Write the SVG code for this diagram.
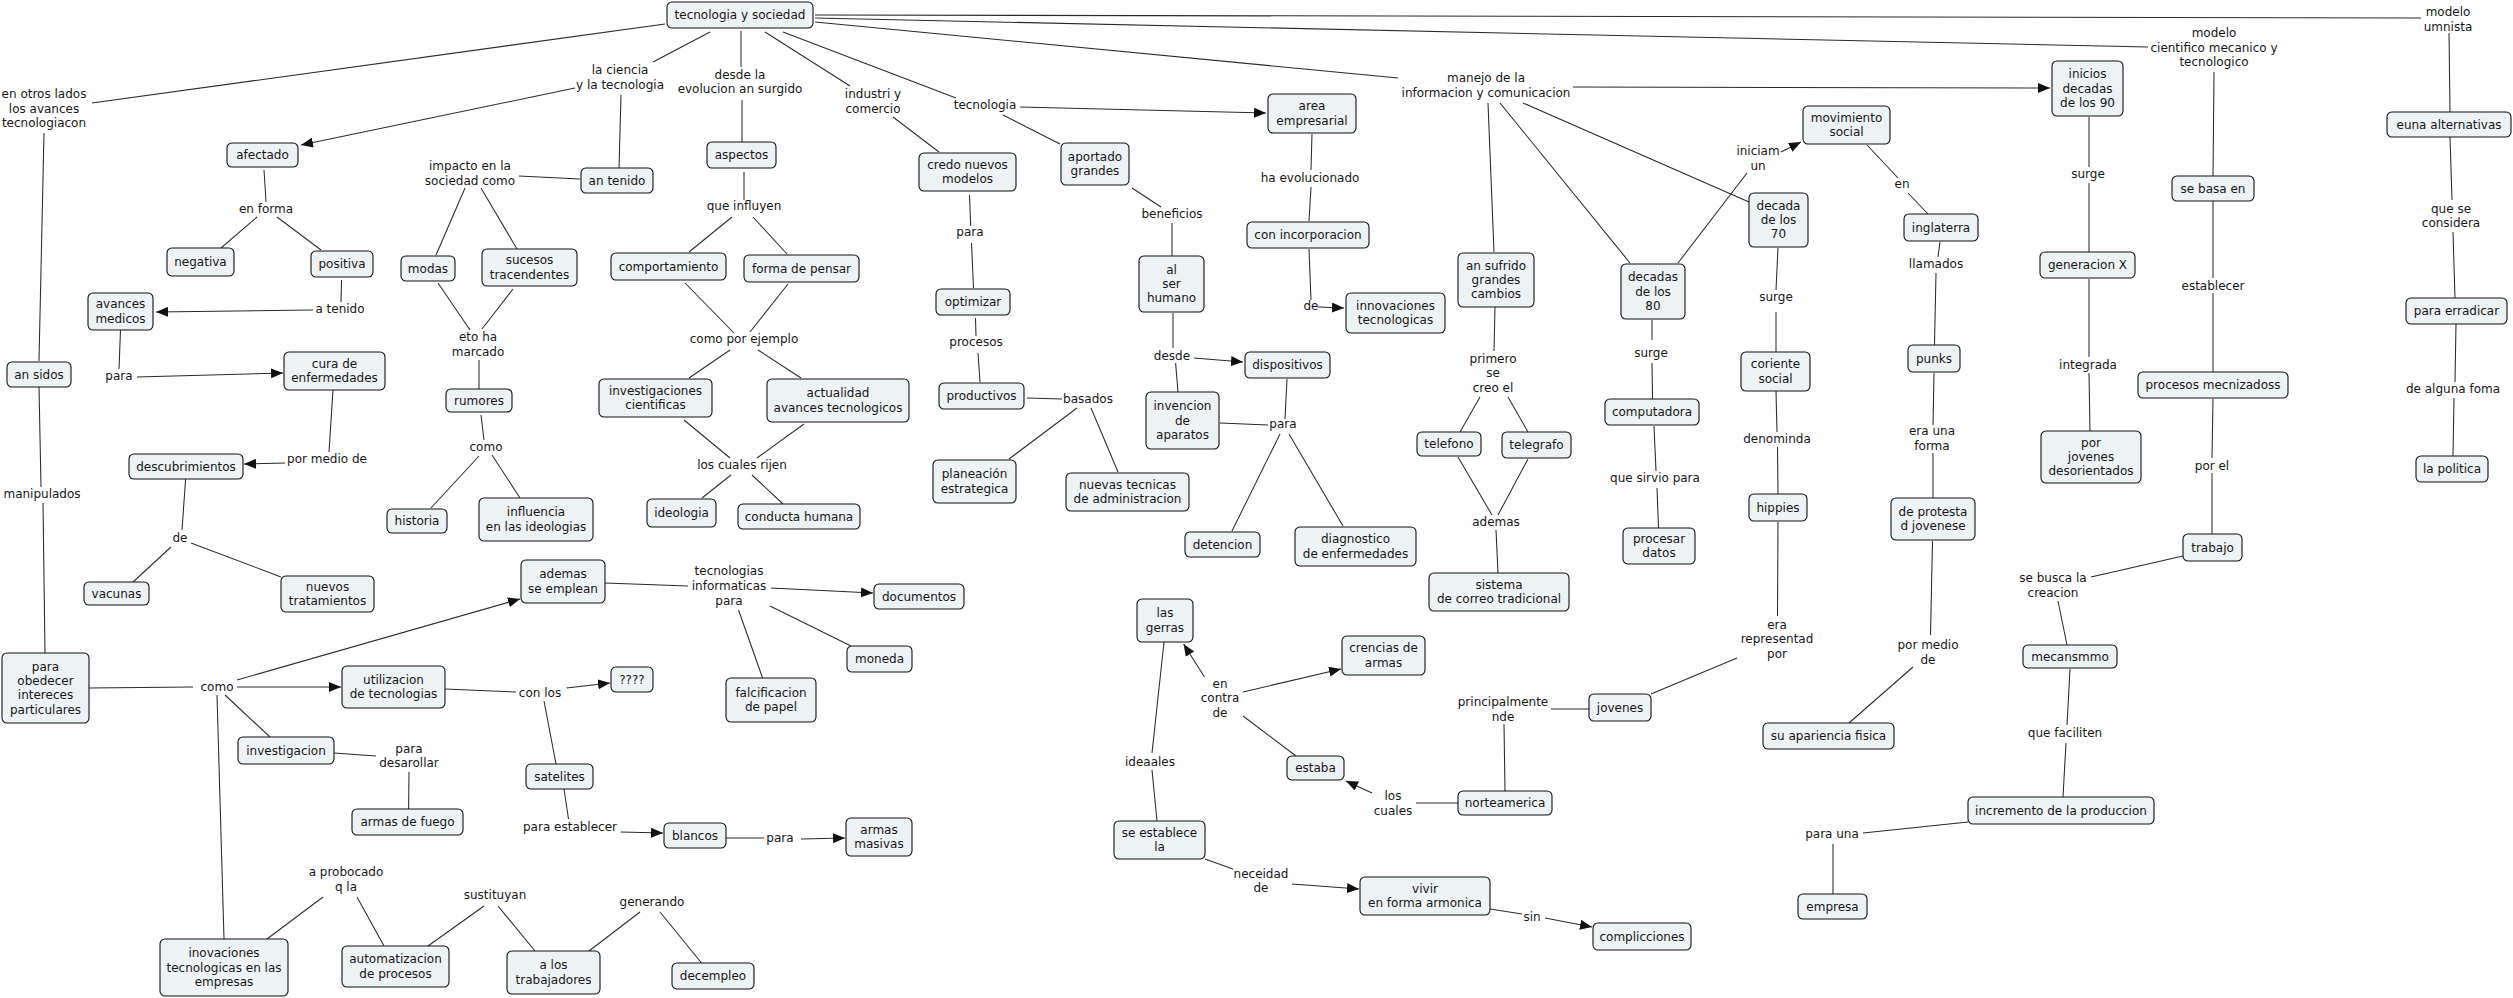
<svg xmlns="http://www.w3.org/2000/svg" width="2513" height="998" viewBox="0 0 2513 998">
<style>
text{font-family:"DejaVu Sans",Verdana,sans-serif;font-size:12px;fill:#161616;text-anchor:middle}
.node rect{fill:#edf2f5;stroke:#111;stroke-width:1.1}
#connectors line{stroke:#2a2a2a;stroke-width:1.05;fill:none}
#connectors line.a{marker-end:url(#ah)}
</style>
<defs>
<marker id="ah" viewBox="0 0 12 10" refX="12" refY="5" markerWidth="12" markerHeight="10" markerUnits="userSpaceOnUse" orient="auto"><path d="M0,0 L12,5 L0,10 z" fill="#111"/></marker>
</defs>
<rect width="2513" height="998" fill="#fff"/>
<g id="connectors">
<line x1="665" y1="24" x2="92" y2="103"/>
<line x1="44" y1="133" x2="39" y2="361"/>
<line x1="710" y1="32" x2="653" y2="62"/>
<line class="a" x1="575" y1="88" x2="301" y2="145"/>
<line x1="621" y1="95" x2="619" y2="168"/>
<line x1="264" y1="170" x2="266" y2="202"/>
<line x1="257" y1="217" x2="221" y2="248"/>
<line x1="277" y1="217" x2="321" y2="250"/>
<line x1="341.5" y1="280" x2="341" y2="302"/>
<line class="a" x1="313" y1="310" x2="156" y2="312"/>
<line x1="580" y1="179" x2="519" y2="176"/>
<line x1="465" y1="188" x2="436" y2="255"/>
<line x1="481" y1="188" x2="517" y2="249"/>
<line x1="438" y1="283" x2="470" y2="330"/>
<line x1="513" y1="289" x2="482" y2="329"/>
<line x1="479" y1="360" x2="479" y2="389"/>
<line x1="481" y1="415" x2="484" y2="440"/>
<line x1="479" y1="456" x2="431" y2="508"/>
<line x1="492" y1="455" x2="520" y2="498"/>
<line x1="741" y1="31" x2="741" y2="67"/>
<line x1="742" y1="100" x2="742" y2="142"/>
<line x1="744" y1="172" x2="744" y2="200"/>
<line x1="732" y1="217" x2="689" y2="252"/>
<line x1="753" y1="217" x2="787" y2="254"/>
<line x1="685" y1="283" x2="734" y2="333"/>
<line x1="788" y1="284" x2="750" y2="332"/>
<line x1="730" y1="350" x2="689" y2="378"/>
<line x1="758" y1="350" x2="801" y2="378"/>
<line x1="684" y1="420" x2="730" y2="458"/>
<line x1="804" y1="424" x2="757" y2="458"/>
<line x1="731" y1="475" x2="702" y2="498"/>
<line x1="752" y1="475" x2="783" y2="504"/>
<line x1="765" y1="32" x2="850" y2="86"/>
<line x1="893" y1="117" x2="939" y2="152"/>
<line x1="969.5" y1="195" x2="970.7" y2="226"/>
<line x1="971.5" y1="243" x2="973.5" y2="288"/>
<line x1="975.5" y1="318" x2="976" y2="336"/>
<line x1="978" y1="353" x2="980" y2="382"/>
<line x1="1027" y1="398" x2="1062" y2="399"/>
<line x1="1077" y1="408" x2="1009" y2="459"/>
<line x1="1091" y1="408" x2="1118" y2="472"/>
<line x1="783" y1="32" x2="956" y2="98"/>
<line class="a" x1="1020" y1="107" x2="1266" y2="113"/>
<line x1="1003" y1="115" x2="1060" y2="144"/>
<line x1="1132" y1="188" x2="1161" y2="207"/>
<line x1="1172" y1="223" x2="1172" y2="256"/>
<line x1="1173" y1="313" x2="1173" y2="348"/>
<line class="a" x1="1194" y1="358" x2="1243" y2="362"/>
<line x1="1175.6" y1="363" x2="1178" y2="392"/>
<line x1="1220" y1="423" x2="1268" y2="425"/>
<line x1="1287" y1="379" x2="1285" y2="419"/>
<line x1="1280" y1="434" x2="1232" y2="531"/>
<line x1="1289" y1="434" x2="1343" y2="526"/>
<line x1="1312" y1="134" x2="1311" y2="170"/>
<line x1="1311" y1="187" x2="1309" y2="221"/>
<line x1="1309" y1="249" x2="1311" y2="300"/>
<line class="a" x1="1318" y1="307" x2="1344" y2="308"/>
<line x1="815" y1="22" x2="1398" y2="78"/>
<line x1="815" y1="18" x2="2148" y2="47"/>
<line x1="815" y1="15" x2="2421" y2="18"/>
<line class="a" x1="1573" y1="87" x2="2050" y2="88"/>
<line x1="1488" y1="103" x2="1494" y2="252"/>
<line x1="1500" y1="103" x2="1630" y2="263"/>
<line x1="1523" y1="103" x2="1749" y2="202"/>
<line x1="1678" y1="263" x2="1747" y2="173"/>
<line class="a" x1="1781" y1="152" x2="1801" y2="142"/>
<line x1="1867" y1="145" x2="1898" y2="178"/>
<line x1="1908" y1="193" x2="1928" y2="214"/>
<line x1="1940" y1="242" x2="1938" y2="257"/>
<line x1="1936" y1="273" x2="1934.5" y2="345"/>
<line x1="1934" y1="373" x2="1933" y2="425"/>
<line x1="1933" y1="453" x2="1933" y2="498"/>
<line x1="1932.5" y1="541" x2="1930.5" y2="635"/>
<line x1="1913" y1="667" x2="1849" y2="723"/>
<line x1="1778" y1="248" x2="1776" y2="290"/>
<line x1="1776" y1="312" x2="1776" y2="352"/>
<line x1="1776" y1="391" x2="1777" y2="432"/>
<line x1="1777.5" y1="447" x2="1778" y2="494"/>
<line x1="1778" y1="522" x2="1777.5" y2="616"/>
<line x1="1737" y1="658" x2="1651" y2="694"/>
<line x1="1495" y1="307" x2="1494" y2="351"/>
<line x1="1480" y1="397" x2="1460" y2="432"/>
<line x1="1508" y1="397" x2="1528" y2="432"/>
<line x1="1458" y1="457" x2="1492" y2="515"/>
<line x1="1528" y1="459" x2="1498" y2="515"/>
<line x1="1496" y1="530" x2="1498" y2="573"/>
<line x1="1652" y1="320" x2="1652" y2="340"/>
<line x1="1652" y1="363" x2="1652.5" y2="399"/>
<line x1="1654" y1="426" x2="1656" y2="471"/>
<line x1="1657" y1="488" x2="1658.5" y2="528"/>
<line x1="2089" y1="117" x2="2089" y2="167"/>
<line x1="2089" y1="183" x2="2089" y2="252"/>
<line x1="2089" y1="279" x2="2089" y2="357"/>
<line x1="2089" y1="373" x2="2090" y2="431"/>
<line x1="2214" y1="72" x2="2213" y2="176"/>
<line x1="2213" y1="201" x2="2213" y2="278"/>
<line x1="2213" y1="293" x2="2213" y2="372"/>
<line x1="2213" y1="399" x2="2212" y2="458"/>
<line x1="2212" y1="473" x2="2212" y2="534"/>
<line x1="2183" y1="556" x2="2091" y2="577"/>
<line x1="2058" y1="601" x2="2067" y2="645"/>
<line x1="2070" y1="669" x2="2067" y2="725"/>
<line x1="2066" y1="743" x2="2063" y2="797"/>
<line x1="1968" y1="822" x2="1863" y2="833"/>
<line x1="1833" y1="844" x2="1833" y2="894"/>
<line x1="2449" y1="33" x2="2450" y2="112"/>
<line x1="2450" y1="137" x2="2452" y2="200"/>
<line x1="2453" y1="232" x2="2455" y2="298"/>
<line x1="2456" y1="324" x2="2455" y2="382"/>
<line x1="2454" y1="398" x2="2453" y2="456"/>
<line x1="39" y1="387" x2="41" y2="487"/>
<line x1="43" y1="503" x2="45" y2="653"/>
<line x1="120.5" y1="330" x2="119" y2="369"/>
<line class="a" x1="137" y1="377" x2="283" y2="373"/>
<line x1="333" y1="390" x2="329" y2="452"/>
<line class="a" x1="285" y1="463" x2="244" y2="464"/>
<line x1="185.6" y1="479" x2="182" y2="530"/>
<line x1="171" y1="547" x2="133" y2="582"/>
<line x1="191" y1="543" x2="281" y2="577"/>
<line x1="89" y1="688" x2="193" y2="687"/>
<line class="a" x1="237" y1="687" x2="341" y2="687"/>
<line class="a" x1="237" y1="680" x2="520" y2="599"/>
<line x1="225" y1="695" x2="270" y2="737"/>
<line x1="217" y1="695" x2="224" y2="939"/>
<line x1="605" y1="583" x2="688" y2="586"/>
<line class="a" x1="771" y1="588" x2="873" y2="593"/>
<line x1="770" y1="606" x2="851" y2="646"/>
<line x1="738.5" y1="610" x2="762.6" y2="678"/>
<line x1="445" y1="689" x2="516" y2="692"/>
<line class="a" x1="566.5" y1="688" x2="610" y2="683"/>
<line x1="544" y1="701" x2="556" y2="764"/>
<line x1="564" y1="789" x2="568.5" y2="819"/>
<line class="a" x1="620.7" y1="832" x2="663" y2="833"/>
<line x1="726" y1="838" x2="764" y2="838"/>
<line class="a" x1="801" y1="839" x2="845" y2="838"/>
<line x1="334" y1="753" x2="376" y2="756"/>
<line x1="409" y1="772" x2="408.6" y2="809"/>
<line x1="267" y1="939" x2="323" y2="897"/>
<line x1="357" y1="897" x2="384" y2="946"/>
<line x1="428" y1="946" x2="484" y2="906"/>
<line x1="498" y1="906" x2="535" y2="951"/>
<line x1="589" y1="951" x2="640" y2="912"/>
<line x1="660" y1="912" x2="701.5" y2="963"/>
<line x1="1164" y1="642" x2="1152" y2="753"/>
<line x1="1152" y1="770" x2="1157" y2="821"/>
<line x1="1205" y1="859" x2="1233" y2="869"/>
<line class="a" x1="1292" y1="884" x2="1359" y2="889"/>
<line x1="1490" y1="909" x2="1522" y2="914"/>
<line class="a" x1="1545" y1="918" x2="1592" y2="927"/>
<line class="a" x1="1204.5" y1="677" x2="1183.6" y2="644"/>
<line class="a" x1="1243" y1="692" x2="1341" y2="669"/>
<line x1="1296" y1="756" x2="1243" y2="716"/>
<line class="a" x1="1372" y1="793" x2="1346" y2="781"/>
<line x1="1458" y1="803" x2="1416" y2="803"/>
<line x1="1505" y1="791" x2="1504" y2="724"/>
<line x1="1551" y1="709" x2="1589" y2="709"/>
</g>
<g id="labels">
<text x="44" y="98">en otros lados<tspan x="44" y="113">los avances</tspan><tspan x="44" y="127">tecnologiacon</tspan></text>
<text x="620" y="74">la ciencia<tspan x="620" y="89">y la tecnologia</tspan></text>
<text x="266" y="213">en forma</text>
<text x="340" y="313">a tenido</text>
<text x="470" y="170">impacto en la<tspan x="470" y="185">sociedad como</tspan></text>
<text x="478" y="341">eto ha<tspan x="478" y="356">marcado</tspan></text>
<text x="740" y="79">desde la<tspan x="740" y="93">evolucion an surgido</tspan></text>
<text x="744" y="210">que influyen</text>
<text x="744" y="343">como por ejemplo</text>
<text x="873" y="98">industri y<tspan x="873" y="113">comercio</tspan></text>
<text x="970" y="236">para</text>
<text x="976" y="346">procesos</text>
<text x="985" y="109">tecnologia</text>
<text x="1172" y="218">beneficios</text>
<text x="1172" y="360">desde</text>
<text x="1310" y="182">ha evolucionado</text>
<text x="1311" y="310">de</text>
<text x="1486" y="82">manejo de la<tspan x="1486" y="97">informacion y comunicacion</tspan></text>
<text x="1758" y="155">iniciam<tspan x="1758" y="170">un</tspan></text>
<text x="1776" y="301">surge</text>
<text x="1902" y="188">en</text>
<text x="1936" y="268">llamados</text>
<text x="2088" y="178">surge</text>
<text x="2214" y="37">modelo<tspan x="2214" y="52">cientifico mecanico y</tspan><tspan x="2214" y="66">tecnologico</tspan></text>
<text x="2213" y="290">establecer</text>
<text x="2448" y="16">modelo<tspan x="2448" y="31">umnista</tspan></text>
<text x="2451" y="213">que se<tspan x="2451" y="227">considera</tspan></text>
<text x="42" y="498">manipulados</text>
<text x="119" y="380">para</text>
<text x="327" y="463">por medio de</text>
<text x="180" y="542">de</text>
<text x="486" y="451">como</text>
<text x="742" y="469">los cuales rijen</text>
<text x="1088" y="403">basados</text>
<text x="1283" y="428">para</text>
<text x="729" y="575">tecnologias<tspan x="729" y="590">informaticas</tspan><tspan x="729" y="605">para</tspan></text>
<text x="1493" y="363">primero<tspan x="1493" y="377">se</tspan><tspan x="1493" y="392">creo el</tspan></text>
<text x="1496" y="526">ademas</text>
<text x="1651" y="357">surge</text>
<text x="1655" y="482">que sirvio para</text>
<text x="1777" y="443">denominda</text>
<text x="1777" y="629">era<tspan x="1777" y="643">representad</tspan><tspan x="1777" y="658">por</tspan></text>
<text x="1932" y="435">era una<tspan x="1932" y="450">forma</tspan></text>
<text x="1928" y="649">por medio<tspan x="1928" y="664">de</tspan></text>
<text x="2088" y="369">integrada</text>
<text x="2212" y="470">por el</text>
<text x="2053" y="582">se busca la<tspan x="2053" y="597">creacion</tspan></text>
<text x="2453" y="393">de alguna foma</text>
<text x="217" y="691">como</text>
<text x="540" y="697">con los</text>
<text x="570" y="831">para establecer</text>
<text x="409" y="753">para<tspan x="409" y="767">desarollar</tspan></text>
<text x="346" y="876">a probocado<tspan x="346" y="891">q la</tspan></text>
<text x="495" y="899">sustituyan</text>
<text x="652" y="906">generando</text>
<text x="780" y="842">para</text>
<text x="1150" y="766">ideaales</text>
<text x="1220" y="688">en<tspan x="1220" y="702">contra</tspan><tspan x="1220" y="717">de</tspan></text>
<text x="1261" y="878">neceidad<tspan x="1261" y="892">de</tspan></text>
<text x="1393" y="800">los<tspan x="1393" y="815">cuales</tspan></text>
<text x="1503" y="706">principalmente<tspan x="1503" y="721">nde</tspan></text>
<text x="1532" y="921">sin</text>
<text x="1832" y="838">para una</text>
<text x="2065" y="737">que faciliten</text>
</g>
<g id="n1" class="node"><rect x="667" y="2" width="146" height="26" rx="5"/><text x="740" y="19">tecnologia y sociedad</text></g>
<g id="n2" class="node"><rect x="227" y="143" width="71" height="24" rx="5"/><text x="262.5" y="159">afectado</text></g>
<g id="n3" class="node"><rect x="167" y="248" width="67" height="28" rx="5"/><text x="200.5" y="266">negativa</text></g>
<g id="n4" class="node"><rect x="311" y="251" width="62" height="26" rx="5"/><text x="342" y="268">positiva</text></g>
<g id="n5" class="node"><rect x="88" y="293" width="65" height="37" rx="5"/><text x="120.5" y="308.4">avances<tspan x="120.5" y="322.7">medicos</tspan></text></g>
<g id="n6" class="node"><rect x="581" y="168" width="72" height="25" rx="5"/><text x="617" y="184.5">an tenido</text></g>
<g id="n7" class="node"><rect x="401" y="256" width="54" height="25" rx="5"/><text x="428" y="272.5">modas</text></g>
<g id="n8" class="node"><rect x="482" y="249" width="95" height="37" rx="5"/><text x="529.5" y="264.4">sucesos<tspan x="529.5" y="278.7">tracendentes</tspan></text></g>
<g id="n9" class="node"><rect x="707" y="142" width="69" height="26" rx="5"/><text x="741.5" y="159">aspectos</text></g>
<g id="n10" class="node"><rect x="611" y="253" width="115" height="27" rx="5"/><text x="668.5" y="270.5">comportamiento</text></g>
<g id="n11" class="node"><rect x="744" y="255" width="115" height="27" rx="5"/><text x="801.5" y="272.5">forma de pensar</text></g>
<g id="n12" class="node"><rect x="919" y="153" width="97" height="38" rx="5"/><text x="967.5" y="168.9">credo nuevos<tspan x="967.5" y="183.2">modelos</tspan></text></g>
<g id="n13" class="node"><rect x="936" y="289" width="74" height="26" rx="5"/><text x="973" y="306">optimizar</text></g>
<g id="n14" class="node"><rect x="1061" y="143" width="68" height="42" rx="5"/><text x="1095" y="160.9">aportado<tspan x="1095" y="175.2">grandes</tspan></text></g>
<g id="n15" class="node"><rect x="1139" y="256" width="65" height="56" rx="5"/><text x="1171.5" y="273.7">al<tspan x="1171.5" y="288">ser</tspan><tspan x="1171.5" y="302.3">humano</tspan></text></g>
<g id="n16" class="node"><rect x="1268" y="94" width="88" height="39" rx="5"/><text x="1312" y="110.4">area<tspan x="1312" y="124.7">empresarial</tspan></text></g>
<g id="n17" class="node"><rect x="1247" y="222" width="122" height="26" rx="5"/><text x="1308" y="239">con incorporacion</text></g>
<g id="n18" class="node"><rect x="1346" y="293" width="99" height="40" rx="5"/><text x="1395.5" y="309.9">innovaciones<tspan x="1395.5" y="324.2">tecnologicas</tspan></text></g>
<g id="n19" class="node"><rect x="1458" y="253" width="76" height="54" rx="5"/><text x="1496" y="269.7">an sufrido<tspan x="1496" y="284">grandes</tspan><tspan x="1496" y="298.3">cambios</tspan></text></g>
<g id="n20" class="node"><rect x="1621" y="264" width="64" height="55" rx="5"/><text x="1653" y="281.2">decadas<tspan x="1653" y="295.5">de los</tspan><tspan x="1653" y="309.8">80</tspan></text></g>
<g id="n21" class="node"><rect x="1749" y="193" width="59" height="54" rx="5"/><text x="1778.5" y="209.7">decada<tspan x="1778.5" y="224">de los</tspan><tspan x="1778.5" y="238.3">70</tspan></text></g>
<g id="n22" class="node"><rect x="1803" y="106" width="87" height="38" rx="5"/><text x="1846.5" y="121.9">movimiento<tspan x="1846.5" y="136.2">social</tspan></text></g>
<g id="n23" class="node"><rect x="2052" y="61" width="71" height="55" rx="5"/><text x="2087.5" y="78.2">inicios<tspan x="2087.5" y="92.5">decadas</tspan><tspan x="2087.5" y="106.8">de los 90</tspan></text></g>
<g id="n24" class="node"><rect x="1904" y="214" width="74" height="27" rx="5"/><text x="1941" y="231.5">inglaterra</text></g>
<g id="n25" class="node"><rect x="2040" y="252" width="95" height="26" rx="5"/><text x="2087.5" y="269">generacion X</text></g>
<g id="n26" class="node"><rect x="2172" y="176" width="82" height="25" rx="5"/><text x="2213" y="192.5">se basa en</text></g>
<g id="n27" class="node"><rect x="2387" y="112" width="124" height="25" rx="5"/><text x="2449" y="128.5">euna alternativas</text></g>
<g id="n28" class="node"><rect x="2406" y="298" width="101" height="26" rx="5"/><text x="2456.5" y="315">para erradicar</text></g>
<g id="n29" class="node"><rect x="7" y="362" width="64" height="25" rx="5"/><text x="39" y="378.5">an sidos</text></g>
<g id="n30" class="node"><rect x="284" y="352" width="101" height="38" rx="5"/><text x="334.5" y="367.9">cura de<tspan x="334.5" y="382.2">enfermedades</tspan></text></g>
<g id="n31" class="node"><rect x="129" y="454" width="114" height="25" rx="5"/><text x="186" y="470.5">descubrimientos</text></g>
<g id="n32" class="node"><rect x="84" y="582" width="65" height="23" rx="5"/><text x="116.5" y="597.5">vacunas</text></g>
<g id="n33" class="node"><rect x="281" y="576" width="93" height="36" rx="5"/><text x="327.5" y="590.9">nuevos<tspan x="327.5" y="605.2">tratamientos</tspan></text></g>
<g id="n34" class="node"><rect x="446" y="389" width="66" height="23" rx="5"/><text x="479" y="404.5">rumores</text></g>
<g id="n35" class="node"><rect x="387" y="509" width="60" height="24" rx="5"/><text x="417" y="525">historia</text></g>
<g id="n36" class="node"><rect x="479" y="498" width="114" height="43" rx="5"/><text x="536" y="516.4">influencia<tspan x="536" y="530.7">en las ideologias</tspan></text></g>
<g id="n37" class="node"><rect x="521" y="560" width="84" height="43" rx="5"/><text x="563" y="578.4">ademas<tspan x="563" y="592.7">se emplean</tspan></text></g>
<g id="n38" class="node"><rect x="599" y="379" width="113" height="38" rx="5"/><text x="655.5" y="394.9">investigaciones<tspan x="655.5" y="409.2">cientificas</tspan></text></g>
<g id="n39" class="node"><rect x="767" y="379" width="142" height="43" rx="5"/><text x="838" y="397.4">actualidad<tspan x="838" y="411.7">avances tecnologicos</tspan></text></g>
<g id="n40" class="node"><rect x="647" y="499" width="69" height="28" rx="5"/><text x="681.5" y="517">ideologia</text></g>
<g id="n41" class="node"><rect x="738" y="504" width="122" height="25" rx="5"/><text x="799" y="520.5">conducta humana</text></g>
<g id="n42" class="node"><rect x="939" y="383" width="85" height="26" rx="5"/><text x="981.5" y="400">productivos</text></g>
<g id="n43" class="node"><rect x="933" y="460" width="83" height="43" rx="5"/><text x="974.5" y="478.4">planeación<tspan x="974.5" y="492.7">estrategica</tspan></text></g>
<g id="n44" class="node"><rect x="1066" y="473" width="123" height="38" rx="5"/><text x="1127.5" y="488.9">nuevas tecnicas<tspan x="1127.5" y="503.2">de administracion</tspan></text></g>
<g id="n45" class="node"><rect x="1146" y="392" width="73" height="57" rx="5"/><text x="1182.5" y="410.2">invencion<tspan x="1182.5" y="424.5">de</tspan><tspan x="1182.5" y="438.8">aparatos</tspan></text></g>
<g id="n46" class="node"><rect x="1245" y="352" width="85" height="26" rx="5"/><text x="1287.5" y="369">dispositivos</text></g>
<g id="n47" class="node"><rect x="1185" y="532" width="75" height="25" rx="5"/><text x="1222.5" y="548.5">detencion</text></g>
<g id="n48" class="node"><rect x="874" y="584" width="90" height="25" rx="5"/><text x="919" y="600.5">documentos</text></g>
<g id="n49" class="node"><rect x="847" y="646" width="65" height="26" rx="5"/><text x="879.5" y="663">moneda</text></g>
<g id="n50" class="node"><rect x="1137" y="599" width="56" height="43" rx="5"/><text x="1165" y="617.4">las<tspan x="1165" y="631.7">gerras</tspan></text></g>
<g id="n51" class="node"><rect x="1417" y="432" width="64" height="24" rx="5"/><text x="1449" y="448">telefono</text></g>
<g id="n52" class="node"><rect x="1502" y="432" width="69" height="26" rx="5"/><text x="1536.5" y="449">telegrafo</text></g>
<g id="n53" class="node"><rect x="1429" y="573" width="140" height="38" rx="5"/><text x="1499" y="588.9">sistema<tspan x="1499" y="603.2">de correo tradicional</tspan></text></g>
<g id="n54" class="node"><rect x="1605" y="399" width="94" height="26" rx="5"/><text x="1652" y="416">computadora</text></g>
<g id="n55" class="node"><rect x="1623" y="528" width="72" height="36" rx="5"/><text x="1659" y="542.9">procesar<tspan x="1659" y="557.2">datos</tspan></text></g>
<g id="n56" class="node"><rect x="1741" y="352" width="69" height="39" rx="5"/><text x="1775.5" y="368.4">coriente<tspan x="1775.5" y="382.7">social</tspan></text></g>
<g id="n57" class="node"><rect x="1749" y="494" width="58" height="27" rx="5"/><text x="1778" y="511.5">hippies</text></g>
<g id="n58" class="node"><rect x="1295" y="527" width="121" height="39" rx="5"/><text x="1355.5" y="543.4">diagnostico<tspan x="1355.5" y="557.7">de enfermedades</tspan></text></g>
<g id="n59" class="node"><rect x="1342" y="636" width="83" height="39" rx="5"/><text x="1383.5" y="652.4">crencias de<tspan x="1383.5" y="666.7">armas</tspan></text></g>
<g id="n60" class="node"><rect x="1908" y="345" width="52" height="27" rx="5"/><text x="1934" y="362.5">punks</text></g>
<g id="n61" class="node"><rect x="1891" y="498" width="84" height="42" rx="5"/><text x="1933" y="515.9">de protesta<tspan x="1933" y="530.2">d jovenese</tspan></text></g>
<g id="n62" class="node"><rect x="1763" y="723" width="131" height="26" rx="5"/><text x="1828.5" y="740">su apariencia fisica</text></g>
<g id="n63" class="node"><rect x="2041" y="431" width="100" height="52" rx="5"/><text x="2091" y="446.7">por<tspan x="2091" y="461">jovenes</tspan><tspan x="2091" y="475.3">desorientados</tspan></text></g>
<g id="n64" class="node"><rect x="2138" y="372" width="150" height="26" rx="5"/><text x="2213" y="389">procesos mecnizadoss</text></g>
<g id="n65" class="node"><rect x="2183" y="534" width="59" height="27" rx="5"/><text x="2212.5" y="551.5">trabajo</text></g>
<g id="n66" class="node"><rect x="2023" y="645" width="94" height="23" rx="5"/><text x="2070" y="660.5">mecansmmo</text></g>
<g id="n67" class="node"><rect x="2416" y="456" width="72" height="26" rx="5"/><text x="2452" y="473">la politica</text></g>
<g id="n68" class="node"><rect x="2" y="653" width="87" height="70" rx="5"/><text x="45.5" y="670.6">para<tspan x="45.5" y="684.9">obedecer</tspan><tspan x="45.5" y="699.2">intereces</tspan><tspan x="45.5" y="713.5">particulares</tspan></text></g>
<g id="n69" class="node"><rect x="342" y="666" width="103" height="42" rx="5"/><text x="393.5" y="683.9">utilizacion<tspan x="393.5" y="698.2">de tecnologias</tspan></text></g>
<g id="n70" class="node"><rect x="611" y="667" width="42" height="25" rx="5"/><text x="632" y="683.5">????</text></g>
<g id="n71" class="node"><rect x="526" y="764" width="67" height="25" rx="5"/><text x="559.5" y="780.5">satelites</text></g>
<g id="n72" class="node"><rect x="238" y="737" width="96" height="27" rx="5"/><text x="286" y="754.5">investigacion</text></g>
<g id="n73" class="node"><rect x="352" y="809" width="111" height="26" rx="5"/><text x="407.5" y="826">armas de fuego</text></g>
<g id="n74" class="node"><rect x="160" y="939" width="128" height="57" rx="5"/><text x="224" y="957.2">inovaciones<tspan x="224" y="971.5">tecnologicas en las</tspan><tspan x="224" y="985.8">empresas</tspan></text></g>
<g id="n75" class="node"><rect x="342" y="946" width="107" height="41" rx="5"/><text x="395.5" y="963.4">automatizacion<tspan x="395.5" y="977.7">de procesos</tspan></text></g>
<g id="n76" class="node"><rect x="507" y="951" width="93" height="43" rx="5"/><text x="553.5" y="969.4">a los<tspan x="553.5" y="983.7">trabajadores</tspan></text></g>
<g id="n77" class="node"><rect x="672" y="963" width="82" height="26" rx="5"/><text x="713" y="980">decempleo</text></g>
<g id="n78" class="node"><rect x="726" y="678" width="90" height="44" rx="5"/><text x="771" y="696.9">falcificacion<tspan x="771" y="711.2">de papel</tspan></text></g>
<g id="n79" class="node"><rect x="664" y="823" width="62" height="25" rx="5"/><text x="695" y="839.5">blancos</text></g>
<g id="n80" class="node"><rect x="846" y="818" width="66" height="38" rx="5"/><text x="879" y="833.9">armas<tspan x="879" y="848.2">masivas</tspan></text></g>
<g id="n81" class="node"><rect x="1114" y="821" width="91" height="38" rx="5"/><text x="1159.5" y="836.9">se establece<tspan x="1159.5" y="851.2">la</tspan></text></g>
<g id="n82" class="node"><rect x="1287" y="756" width="57" height="24" rx="5"/><text x="1315.5" y="772">estaba</text></g>
<g id="n83" class="node"><rect x="1458" y="791" width="94" height="24" rx="5"/><text x="1505" y="807">norteamerica</text></g>
<g id="n84" class="node"><rect x="1589" y="694" width="62" height="27" rx="5"/><text x="1620" y="711.5">jovenes</text></g>
<g id="n85" class="node"><rect x="1360" y="877" width="130" height="38" rx="5"/><text x="1425" y="892.9">vivir<tspan x="1425" y="907.2">en forma armonica</tspan></text></g>
<g id="n86" class="node"><rect x="1593" y="923" width="98" height="27" rx="5"/><text x="1642" y="940.5">complicciones</text></g>
<g id="n87" class="node"><rect x="1798" y="894" width="69" height="25" rx="5"/><text x="1832.5" y="910.5">empresa</text></g>
<g id="n88" class="node"><rect x="1968" y="797" width="186" height="27" rx="5"/><text x="2061" y="814.5">incremento de la produccion</text></g>
</svg>
